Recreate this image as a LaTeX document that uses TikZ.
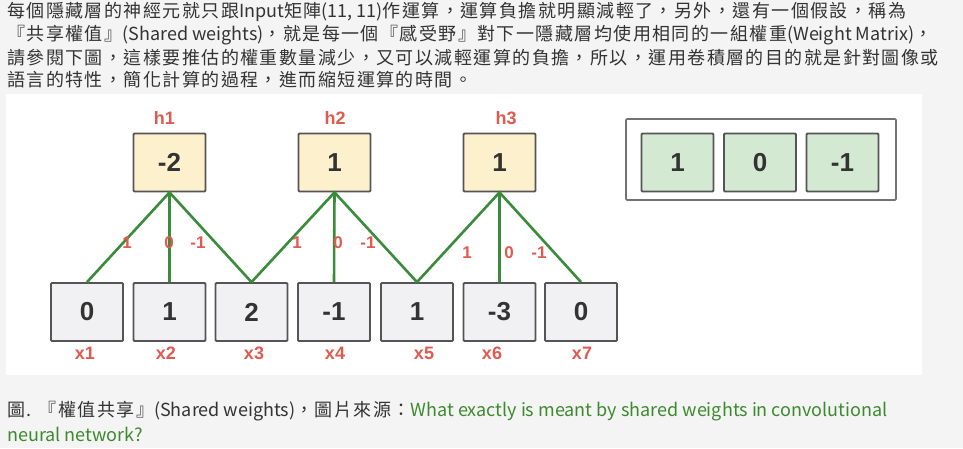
\documentclass[tikz,border=0pt]{standalone}
\usepackage{fontspec}
\setmainfont{Liberation Sans}
\newfontfamily\cjk[LetterSpace=8]{Noto Sans CJK TC}
\newfontfamily\cjklat{Noto Sans CJK TC}
\definecolor{pagebg}{HTML}{F4F4F4}
\definecolor{bodytxt}{HTML}{333333}
\definecolor{linkgreen}{HTML}{3C8A2E}
\definecolor{hidfill}{HTML}{FCF1CC}
\definecolor{infill}{HTML}{F1F1F3}
\definecolor{kerfill}{HTML}{D3E9D2}
\definecolor{boxline}{HTML}{555555}
\definecolor{wiregreen}{HTML}{3A8B3A}
\definecolor{labred}{HTML}{E05A50}

\begin{document}
\begin{tikzpicture}[x=1pt,y=-1pt,
  cell/.style={draw=boxline, line width=1.8pt, rounded corners=1pt, minimum width=72pt, minimum height=58pt, inner sep=0pt, font=\bfseries\fontsize{26}{26}\selectfont, text=black!80},
  hid/.style={cell, fill=hidfill},
  inp/.style={cell, fill=infill},
  ker/.style={cell, fill=kerfill},
  tag/.style={text=labred, font=\bfseries\fontsize{18}{18}\selectfont, inner sep=0pt},
  wlab/.style={text=labred, font=\bfseries\fontsize{17}{17}\selectfont, inner sep=0pt},
  wire/.style={draw=wiregreen, line width=2.6pt},
  para/.style={anchor=west, text=bodytxt, font=\cjk\fontsize{18}{18}\selectfont, inner sep=0pt}]

% page and panel
\fill[pagebg] (0,0) rectangle (963,448);
\fill[white] (6,94) rectangle (922,375);

% text above
\node[para] (p1) at (7,12) {每個隱藏層的神經元就只跟{\cjklat Input}矩陣{\cjklat (11, 11)}作運算，運算負擔就明顯減輕了，另外，還有一個假設，稱為};
\node[para] (p2) at (7,35) {『共享權值』{\cjklat (Shared weights)}，就是每一個『感受野』對下一隱藏層均使用相同的一組權重{\cjklat (Weight Matrix)}，};
\node[para] (p3) at (7,58) {請參閱下圖，這樣要推估的權重數量減少，又可以減輕運算的負擔，所以，運用卷積層的目的就是針對圖像或};
\node[para] (p4) at (7,80) {語言的特性，簡化計算的過程，進而縮短運算的時間。};

% hidden layer
\node[hid] (h1) at (169.5,162.5) {-2};
\node[hid] (h2) at (334.5,162.5) {1};
\node[hid] (h3) at (499.5,162.5) {1};
\node[tag] (n1) at (164.5,118) {h1};
\node[tag] (n2) at (335,118) {h2};
\node[tag] (n3) at (506,118) {h3};

% input layer
\node[inp] (x1) at (87,312) {0};
\node[inp] (x2) at (169.5,312) {1};
\node[inp] (x3) at (251.5,312) {2};
\node[inp] (x4) at (334,312) {-1};
\node[inp] (x5) at (417,312) {1};
\node[inp] (x6) at (499.5,312) {-3};
\node[inp] (x7) at (581,312) {0};
\node[tag] (m1) at (85,353) {x1};
\node[tag] (m2) at (166,353) {x2};
\node[tag] (m3) at (254,353) {x3};
\node[tag] (m4) at (335,353) {x4};
\node[tag] (m5) at (424,353) {x5};
\node[tag] (m6) at (492,353) {x6};
\node[tag] (m7) at (582,353) {x7};

% shared weights
\draw[wire] (x1.north) -- (h1.south) -- (x3.north) (h1.south) -- (x2.north);
\draw[wire] (x3.north) -- (h2.south) -- (x5.north) (h2.south) -- (x4.north);
\draw[wire] (x5.north) -- (h3.south) -- (x7.north) (h3.south) -- (x6.north);
\node[wlab] (w11) at (127,243) {1};
\node[wlab] (w12) at (169,243) {0};
\node[wlab] (w13) at (198,243) {-1};
\node[wlab] (w21) at (297,243) {1};
\node[wlab] (w22) at (338,243) {0};
\node[wlab] (w23) at (368,243) {-1};
\node[wlab] (w31) at (467,253) {1};
\node[wlab] (w32) at (509,253) {0};
\node[wlab] (w33) at (539,253) {-1};

% kernel
\draw[draw=black!55, line width=1.6pt, rounded corners=1pt] (626,119) rectangle (896,200);
\node[ker] (k1) at (677.5,162.5) {1};
\node[ker] (k2) at (760,162.5) {0};
\node[ker] (k3) at (842.5,162.5) {-1};

% caption
\node[para] (c1) at (7,411) {圖. 『權值共享』{\cjklat (Shared weights)}，圖片來源：{\cjklat\color{linkgreen}What exactly is meant by shared weights in convolutional}};
\node[para, text=linkgreen] (c2) at (7,434) {\cjklat neural network?};
\end{tikzpicture}
\end{document}
